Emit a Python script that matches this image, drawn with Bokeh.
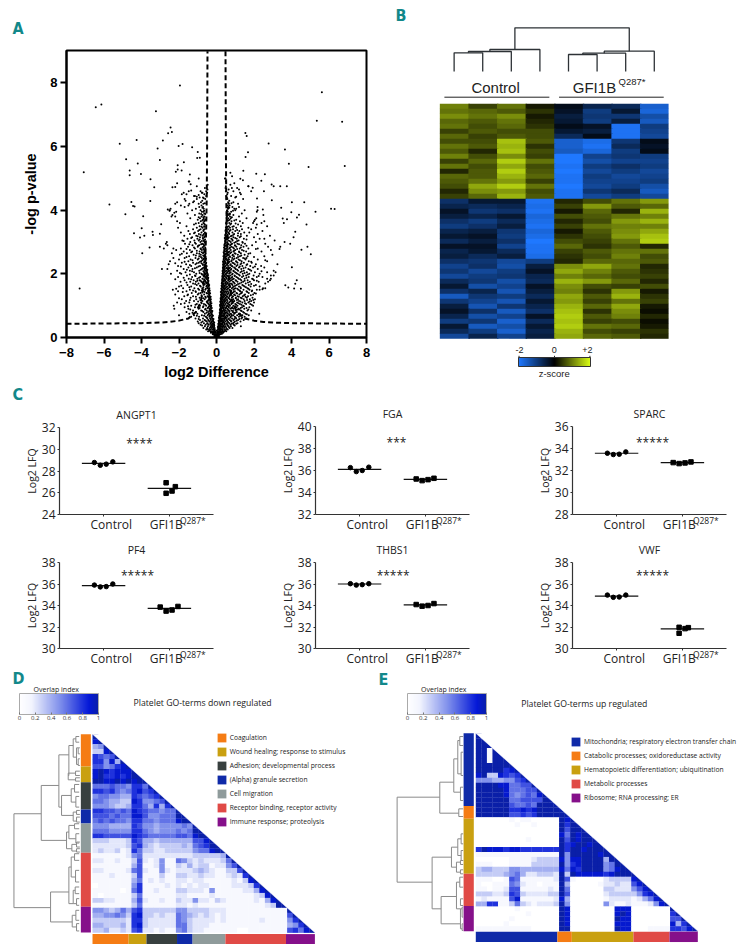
from bokeh.plotting import figure
from bokeh.layouts import column, row
from bokeh.models import (Range1d, Label, FixedTicker, LinearColorMapper, ColorBar,
                          ColumnDataSource, Title, LinearAxis)
from bokeh.embed import file_html
from bokeh.resources import INLINE

TEAL = "#12888a"
SANS = "Liberation Sans"
OPEN = "Open Sans"
NARROW = "'DejaVu Sans Condensed', 'Liberation Sans'"

# ---------- A: volcano ----------
volcano_outlier_x = [-7.3,-7.08,-6.44,-6.14,-5.71,-5.16,-4.82,-4.86,-4.63,-4.63,-4.54,-4.45,-4.37,-4.4,-4.26,-4.2,-4.03,-3.91,-3.99,-4.08,-3.85,-3.96,-3.52,-3.53,-3.32,-3.41,-3.39,-3.57,-3.23,-3.14,-3.02,-2.86,-3.02,-2.95,-3.02,-2.81,-2.91,-2.58,-2.45,-2.38,-1.95,-2.02,-1.81,-1.3,-1.0,-0.89,-1.03,-1.74,-2.07,-2.07,-2.17,-1.86,-1.42,-1.48,-1.38,-2.35,-2.2,-2.1,-1.75,-1.6,-1.35,-1.2,-0.95,-0.75,-2.6,-2.5,-2.45,-2.35,-2.25,-2.1,-1.9,-1.7,-1.45,-1.2,-1.05,-0.85,
                     5.62,5.35,6.7,6.84,4.91,3.86,3.65,2.78,1.54,1.61,1.68,1.55,1.43,0.74,0.83,2.12,2.58,2.39,1.27,1.41,2.94,3.05,3.4,3.75,2.53,1.93,2.95,2.16,4.02,4.68,3.45,2.19,2.19,2.47,6.11,6.3,5.28,3.99,4.4,4.29,3.53,3.76,3.59,4.8,4.2,4.11,3.93,3.63,3.4,3.36,4.85,4.53,5.03,4.02,4.28,4.2,3.67,3.83,4.14,4.5,3.25,3.15,3.05,2.9,2.75,2.6,2.45,2.3,1.1,1.25,0.95,1.7,1.85,1.05]
volcano_outlier_y = [1.54,5.19,7.24,7.32,4.18,6.09,5.6,3.87,5.25,5.1,4.26,4.13,4.12,3.28,6.21,5.47,5.14,3.81,3.43,3.14,3.2,2.65,4.97,4.29,4.72,3.32,3.22,2.83,7.11,5.94,5.58,6.19,3.26,3.56,2.85,2.8,2.15,6.42,6.6,6.46,7.92,6.02,6.08,5.98,5.83,5.65,5.64,5.51,5.41,5.28,5.21,5.25,5.12,4.9,4.82,4.72,4.73,4.85,4.55,4.5,4.62,4.45,4.48,4.55,4.02,3.98,4.05,3.85,3.92,4.25,4.15,4.35,4.2,4.28,4.42,4.6,
                     7.71,6.81,6.78,5.39,5.36,5.46,5.91,6.1,6.43,6.33,5.82,5.67,5.24,5.18,5.07,5.15,5.13,4.93,4.99,4.94,4.81,4.75,4.75,4.75,4.6,4.71,4.31,4.37,4.25,4.25,4.08,4.1,4.0,4.02,4.05,4.04,3.95,3.94,3.86,3.77,3.74,3.72,3.6,3.55,3.32,3.15,2.95,3.0,2.85,2.78,2.85,2.76,2.62,2.21,1.8,1.69,1.64,1.57,1.54,1.53,2.3,2.05,1.95,1.85,1.75,1.55,1.52,1.5,4.7,4.55,4.85,4.75,4.6,4.42]

cloud_rows = [
 (0.05,[-.12,-.08,-.05,-.02,.01,.04,.07,.1,.14]),
 (0.10,[-.2,-.15,-.1,-.06,-.02,.03,.06,.1,.16,.22]),
 (0.15,[-.3,-.22,-.16,-.1,-.05,.04,.09,.13,.2,.27,.35]),
 (0.20,[-.45,-.33,-.25,-.18,-.12,-.07,.06,.11,.17,.24,.3,.41,.52]),
 (0.25,[-.55,-.4,-.3,-.2,-.14,-.09,.08,.13,.19,.26,.34,.45,.6]),
 (0.30,[-.7,-.5,-.36,-.26,-.17,-.1,.09,.15,.22,.3,.4,.52,.7,.85]),
 (0.35,[-.62,-.46,-.31,-.22,-.13,.1,.14,.2,.28,.36,.49,.63,.77,1.3]),
 (0.40,[-.85,-.58,-.41,-.29,-.19,-.13,.11,.18,.25,.33,.44,.58,.74,.92]),
 (0.45,[-.95,-.67,-.47,-.33,-.23,-.15,.12,.17,.23,.31,.42,.55,.69,.88,1.12]),
 (0.50,[-1.0,-.74,-.52,-.36,-.25,-.17,.13,.2,.28,.37,.47,.6,.79,.98,1.28]),
 (0.55,[-.88,-.63,-.44,-.3,-.19,.15,.19,.26,.34,.43,.54,.71,.9,1.15,1.45]),
 (0.60,[-1.12,-.72,-.49,-.34,-.21,.14,.22,.3,.39,.5,.66,.83,1.05,1.33,1.6]),
 (0.65,[-1.35,-.93,-.57,-.38,-.24,.16,.21,.28,.36,.46,.58,.76,.97,1.2,1.5]),
 (0.70,[-2.0,-1.2,-.78,-.47,-.31,-.22,.17,.24,.32,.42,.53,.7,.89,1.1,1.38,1.72]),
 (0.75,[-1.45,-1.02,-.62,-.4,-.27,.18,.26,.35,.45,.6,.75,.95,1.25,1.55,2.28]),
 (0.80,[-1.6,-1.1,-.7,-.45,-.3,-.24,.2,.25,.33,.41,.56,.68,.86,1.08,1.42]),
 (0.85,[-1.25,-.82,-.52,-.35,-.27,.19,.28,.38,.5,.63,.81,1.02,1.3,1.65,1.85]),
 (0.90,[-2.25,-1.5,-.95,-.58,-.38,-.29,.21,.27,.36,.47,.58,.73,.92,1.18,1.48]),
 (0.95,[-1.7,-1.15,-.72,-.43,-.31,.22,.3,.4,.52,.66,.85,1.07,1.36,1.75]),
 (1.00,[-2.28,-1.35,-.88,-.55,-.36,-.28,.2,.26,.34,.44,.57,.72,.9,1.12,1.42,1.95]),
 (1.05,[-1.9,-1.05,-.67,-.42,-.32,.23,.29,.39,.49,.62,.79,1.0,1.25,1.58,1.8]),
 (1.10,[-2.1,-1.45,-.82,-.5,-.34,.22,.31,.41,.53,.68,.87,1.1,1.38,1.7,2.0]),
 (1.15,[-1.62,-1.2,-.75,-.46,-.33,.24,.28,.36,.46,.59,.76,.95,1.2,1.5,1.85]),
 (1.20,[-1.85,-1.08,-.63,-.39,-.3,.23,.33,.43,.56,.71,.9,1.15,1.45,1.78,2.05]),
 (1.25,[-1.38,-.9,-.57,-.41,-.34,.25,.3,.38,.5,.64,.82,1.03,1.3,1.62,1.92]),
 (1.30,[-1.72,-1.25,-.78,-.48,-.36,.26,.32,.42,.54,.69,.88,1.12,1.4,1.68]),
 (1.35,[-2.2,-1.52,-1.0,-.66,-.4,.24,.35,.45,.58,.74,.94,1.22,1.52,1.95]),
 (1.40,[-1.32,-.85,-.53,-.43,-.37,.27,.31,.4,.51,.65,.84,1.06,1.34,1.72,2.02]),
 (1.45,[-2.05,-1.6,-1.12,-.72,-.45,.26,.36,.47,.61,.78,.98,1.26,1.6,1.88]),
 (1.50,[-2.33,-1.42,-.93,-.6,-.41,.28,.33,.43,.55,.7,.9,1.16,1.44,1.76,2.15]),
 (1.55,[-1.78,-1.18,-.76,-.49,-.38,.27,.37,.48,.63,.82,1.02,1.3,1.65,2.48]),
 (1.60,[-2.0,-1.35,-.84,-.54,-.42,.29,.34,.44,.57,.73,.93,1.2,1.5,1.82,2.3]),
 (1.65,[-1.55,-1.05,-.68,-.46,-.39,.3,.38,.5,.66,.85,1.08,1.38,1.72,2.1]),
 (1.70,[-1.25,-.96,-.72,-.52,-.43,.28,.35,.46,.6,.77,.97,1.24,1.56,2.6]),
 (1.75,[-1.92,-1.4,-1.1,-.8,-.58,-.44,.31,.39,.52,.68,.88,1.12,1.42,1.78,2.25]),
 (1.80,[-1.7,-1.22,-.9,-.64,-.47,.3,.36,.47,.62,.8,1.02,1.32,1.66,2.0,2.85]),
 (1.85,[-1.48,-1.02,-.75,-.55,-.45,.32,.41,.55,.72,.92,1.18,1.5,1.9,2.7]),
 (1.90,[-2.05,-1.3,-.87,-.6,-.49,.31,.38,.5,.65,.84,1.06,1.36,1.72,2.15,2.45]),
 (1.95,[-1.58,-1.15,-.7,-.52,-.46,.33,.42,.56,.74,.96,1.24,1.58,1.98,2.9]),
 (2.00,[-2.43,-1.88,-1.08,-.8,-.57,-.48,.32,.39,.51,.67,.86,1.1,1.4,1.75,2.3]),
 (2.05,[-1.65,-1.2,-.65,-.5,.34,.43,.58,.76,.99,1.28,1.62,2.05,2.7]),
 (2.10,[-2.1,-1.42,-.92,-.6,-.52,.33,.4,.53,.7,.9,1.15,1.46,1.85,3.05]),
 (2.15,[-2.62,-1.75,-1.28,-.78,-.55,.35,.44,.6,.79,1.02,1.32,1.7,2.2]),
 (2.20,[-1.5,-1.05,-.68,-.56,.34,.41,.55,.72,.94,1.2,1.55,1.95,2.55]),
 (2.25,[-2.05,-1.35,-.88,-.62,-.53,.36,.46,.62,.82,1.06,1.38,1.8,2.38]),
 (2.30,[-2.55,-1.62,-1.12,-.74,-.58,.35,.43,.58,.76,.98,1.28,1.64,2.1]),
 (2.35,[-1.85,-1.25,-.95,-.66,-.55,.37,.48,.65,.86,1.12,1.46,1.88]),
 (2.40,[-2.48,-1.5,-.82,-.6,.36,.45,.6,.79,1.04,1.34,1.72,2.7]),
 (2.45,[-2.0,-1.38,-1.0,-.7,-.58,.38,.5,.67,.9,1.18,1.55,2.2]),
 (2.50,[-2.3,-1.7,-1.12,-.78,-.62,.39,.47,.63,.84,1.08,1.42,1.6]),
 (2.55,[-1.46,-.92,-.66,-.59,.37,.52,.7,.93,1.25,1.66,2.55]),
 (2.60,[-1.95,-1.22,-.84,-.61,.41,.49,.66,.87,1.14,1.5,2.98]),
 (2.65,[-2.38,-1.58,-1.05,-.72,.4,.54,.73,.97,1.3,1.8]),
 (2.70,[-1.75,-1.3,-.9,-.63,.42,.5,.68,.9,1.2,1.58,2.4]),
 (2.75,[-2.15,-1.42,-.78,-.66,.41,.56,.76,1.0,1.36,2.9]),
 (2.80,[-2.3,-1.9,-1.15,-.85,-.6,.43,.52,.7,.93,1.24,1.7,2.2]),
 (2.85,[-1.52,-1.0,-.7,.44,.58,.8,1.06,1.44,2.75]),
 (2.90,[-2.62,-1.28,-.92,-.64,.42,.54,.73,.98,1.32,1.9]),
 (2.95,[-2.7,-1.68,-1.1,-.76,.45,.6,.83,1.12,1.52,2.6]),
 (3.00,[-2.65,-1.4,-.86,-.62,.46,.56,.76,1.03,1.38,2.1]),
 (3.05,[-1.82,-1.18,-.95,-.68,.47,.63,.86,1.18,3.1]),
 (3.10,[-1.55,-1.02,-.72,.45,.58,.79,1.08,1.46,2.3,2.55]),
 (3.15,[-1.3,-.88,-.65,.48,.66,.9,1.24,2.0]),
 (3.20,[-1.72,-1.08,-.75,.47,.6,.82,1.14,1.62,2.85]),
 (3.25,[-1.42,-.94,-.67,.49,.68,.94,1.3,2.2]),
 (3.30,[-1.9,-1.15,-.8,-.62,.5,.62,.85,1.48,1.75]),
 (3.35,[-1.5,-.98,-.7,.48,.7,1.0,1.22,2.45]),
 (3.40,[-1.25,-.85,-.64,.51,.64,.88,1.36,1.85]),
 (3.45,[-2.05,-1.05,-.74,.5,.72,1.05,1.7,2.1]),
 (3.50,[-1.6,-.9,-.66,.52,.66,.92,1.3,2.7]),
 (3.55,[-1.2,-.78,-.62,.53,.74,1.15,2.15]),
 (3.60,[-1.95,-.95,-.7,.51,.68,1.4,1.95,2.4]),
 (3.65,[-2.1,-.84,-.66,.54,.8,1.25,2.0,2.55]),
 (3.70,[-1.0,-.72,-.6,.55,.7,1.05,2.05]),
 (3.75,[-1.4,-.88,-.68,.53,.62,.76,1.6,2.12]),
 (3.80,[-2.4,-2.2,-.8,-.64,.56,.72,1.2]),
 (3.85,[-1.15,-.74,.58,.66,.9,2.5]),
 (3.90,[-1.55,-.92,-.65,.55,.7,1.35]),
 (3.95,[-2.15,-.78,-.7,.6,.78,2.15]),
 (4.00,[-2.5,-1.3,-.85,.57,1.0,1.5]),
 (4.05,[-1.1,-.68,.62,.95,1.05]),
 (4.10,[-1.7,-.92,-.72,.64,.85,1.2]),
 (4.15,[-1.5,-.8,.6,.7]),
 (4.20,[-2.2,-.95,-.7,.66,1.15]),
 (4.25,[-1.25,-.83,.62,.9]),
 (4.30,[-1.65,-.76,.68]),
 (4.35,[-1.05,-.6,.58,1.42]),
 (4.40,[-.9,-.72,.55,1.0]),
 (4.45,[-1.15,-.55,.52,.78]),
 (4.50,[-1.85,-.65,.57,1.3]),
 (4.55,[-.78,-.5,.6]),
 (4.60,[-1.48,-.55,.5,.9]),
 (4.65,[-.48,.65,1.2]),
 (4.70,[-.62,.48,.82]),
 (4.75,[-1.05,.5,1.7]),
 (4.80,[-.47,.74]),
 (4.90,[-1.45,.5]),
 (5.00,[-.95,.45,.48]),
]
cloud_rows_b = [
 (0.12,[-.17,.05,.12,.29]),(0.17,[-.24,-.03,.08,.15,.38]),(0.22,[-.38,-.11,.02,.19,.33,.47]),(0.27,[-.48,-.15,.1,.18,.23,.55]),
 (0.33,[-.31,-.2,.07,.17,.31,.44,.66]),(0.38,[-.77,-.24,-.12,.12,.21,.37,.6,.97]),(0.43,[-.5,-.17,.1,.19,.27,.52,.81,1.05]),(0.47,[-.81,-.28,-.12,.14,.34,.4,.63,.93]),
 (0.53,[-.58,-.41,-.2,.11,.24,.33,.57,.76,1.08]),(0.58,[-.95,-.3,-.16,.18,.27,.41,.62,.95,1.22]),(0.63,[-.52,-.27,.13,.2,.45,.51,.74,1.02,1.37]),(0.68,[-1.05,-.66,-.35,-.19,.16,.3,.38,.6,.82,1.27]),
 (0.73,[-.42,-.25,.19,.23,.41,.67,.8,1.19,1.62]),(0.78,[-1.28,-.53,-.33,.17,.28,.48,.53,.93,1.0,1.47]),(0.83,[-.76,-.39,-.22,.22,.31,.44,.7,.88,1.34]),(0.88,[-1.4,-.61,-.34,.18,.24,.4,.61,1.14,1.22,1.7]),
 (0.93,[-.9,-.47,-.25,.24,.35,.5,.79,.84,1.29,1.6]),(0.98,[-1.52,-.7,-.4,-.3,.21,.33,.55,.63,.99,1.46]),(1.03,[-1.12,-.6,-.35,.19,.27,.37,.68,1.05,1.33,1.88]),(1.08,[-1.7,-.79,-.45,-.27,.25,.35,.6,.83,1.17,1.52]),
 (1.13,[-.98,-.52,-.31,.2,.3,.44,.73,.92,1.28,1.76]),(1.18,[-1.42,-.86,-.43,-.35,.26,.4,.51,.78,1.09,1.63,1.96]),(1.23,[-2.0,-.71,-.37,.22,.29,.47,.66,1.03,1.35]),(1.28,[-1.1,-.6,-.44,-.31,.27,.34,.57,.85,1.19,1.55]),
 (1.33,[-1.55,-.8,-.39,.25,.38,.49,.7,.99,1.47,1.83]),(1.38,[-.95,-.5,-.34,.29,.33,.62,.81,1.1,1.29,2.1]),(1.43,[-1.8,-1.1,-.64,-.38,.23,.41,.54,.91,1.36,1.64]),(1.48,[-1.25,-.79,-.44,-.36,.3,.36,.72,.77,1.23,1.9]),
 (1.53,[-2.15,-.98,-.57,-.4,.26,.45,.6,.95,1.11,1.7]),(1.58,[-1.45,-.7,-.47,.31,.39,.52,.87,1.28,1.57]),(1.63,[-1.88,-.88,-.52,-.41,.27,.43,.69,1.0,1.44,2.0]),(1.68,[-1.14,-.62,-.45,.33,.37,.55,.82,1.15,1.85]),
 (1.73,[-1.6,-.75,-.55,-.47,.29,.48,.59,.93,1.33,1.68]),(1.78,[-1.02,-.85,-.61,-.43,.34,.4,.74,1.05,1.5,2.15]),(1.83,[-2.2,-1.35,-.66,-.5,.31,.45,.64,.86,1.26,1.95]),(1.88,[-1.75,-.93,-.56,-.44,.36,.53,.79,1.13,1.6]),
 (1.93,[-1.12,-.68,-.54,.32,.44,.6,.98,1.43,2.25]),(1.98,[-1.42,-.77,-.59,-.47,.37,.49,.83,1.19,1.67]),(2.03,[-1.95,-.9,-.62,-.51,.35,.56,.71,1.05,1.5]),(2.08,[-1.3,-.7,-.54,.33,.47,.64,.92,1.35,2.4]),
 (2.13,[-1.58,-.84,-.64,-.49,.38,.42,.77,1.1,1.78]),(2.18,[-1.15,-.74,-.57,.36,.52,.68,1.0,1.44]),(2.23,[-1.9,-.96,-.6,-.54,.39,.46,.85,1.24,2.05]),(2.28,[-1.42,-.72,-.63,.37,.55,.73,1.12,1.6]),
 (2.33,[-2.2,-1.05,-.8,-.56,.4,.5,.92,1.33]),(2.38,[-1.7,-.88,-.65,.35,.44,.69,1.07,1.85]),(2.43,[-1.28,-.76,-.59,.42,.57,.81,1.25,2.6]),(2.48,[-.95,-.68,-.56,.39,.52,.96,1.5]),
 (2.53,[-1.6,-.83,-.6,.44,.48,.72,1.15,2.0]),(2.58,[-1.1,-.71,-.63,.41,.6,.85,1.32]),(2.63,[-1.85,-.92,-.58,.45,.53,1.02,1.7]),(2.68,[-1.35,-.78,-.67,.38,.64,.78,1.22]),
 (2.73,[-1.05,-.62,.43,.55,.94,1.45]),(2.78,[-1.6,-.84,-.69,.46,.61,1.1,2.1]),(2.83,[-1.2,-.75,-.6,.4,.72,.88,1.3]),(2.88,[-.98,-.66,.47,.55,1.0,1.6]),
 (2.93,[-1.45,-.82,-.71,.43,.65,.78,1.2]),(2.98,[-1.15,-.63,.48,.58,.95,1.4]),(3.03,[-1.75,-.78,-.67,.46,.7,1.1]),(3.08,[-.9,-.61,.5,.54,.84,1.6]),
 (3.13,[-1.35,-.73,.44,.64,1.0]),(3.18,[-1.0,-.64,.52,.76,1.3]),(3.23,[-.85,-.7,.47,.58,.9]),(3.28,[-1.2,-.6,.53,.67,1.15]),
 (3.38,[-.92,-.69,.49,.75,1.1]),(3.48,[-.8,-.63,.55,.6,.85]),(3.58,[-1.1,-.67,.52,.78,1.02]),(3.68,[-.76,-.62,.57,.64,.95]),
 (3.78,[-.95,-.7,.54,.82]),(3.88,[-.82,-.6,.61,.72]),(3.98,[-.66,.56,.88]),(4.08,[-.75,.59,.68]),(4.22,[-.62,.64,.8]),(4.38,[-.68,.54]),
]
thresh_left_x = [-8,-6,-4,-3,-2.5,-2,-1.5,-1.1,-0.85,-0.7,-0.6,-0.55,-0.52,-0.5,-0.49,-0.48]
thresh_left_y = [0.43,0.44,0.45,0.47,0.49,0.53,0.6,0.8,1.1,1.6,2.4,3.4,4.4,6.0,7.5,9.0]
thresh_right_x = [0.48,0.49,0.5,0.52,0.55,0.6,0.7,0.85,1.1,1.5,2,2.5,3,4,6,8]
thresh_right_y = [9.0,7.5,6.0,4.4,3.4,2.4,1.6,1.1,0.8,0.6,0.53,0.49,0.47,0.45,0.44,0.43]

# ---------- B: heatmap (z-scores; 8 samples) ----------
zscore_rows = [
 [1.0,0.5,0.9,0.2,-0.2,-0.6,-0.7,-1.6],[0.9,0.8,0.7,0.4,-0.3,-1.0,-0.4,-1.7],[1.1,0.9,1.1,0.2,-0.5,-0.9,-0.9,-1.3],[0.8,0.7,0.9,0.3,-0.4,-1.0,-0.5,-1.5],
 [0.9,0.6,0.8,0.4,-0.2,-0.3,-1.9,-1.0],[0.5,0.7,0.6,0.6,-0.4,-0.5,-1.9,-1.1],[0.8,0.5,0.7,0.6,-0.7,-0.2,-1.9,-1.2],
 [0.6,0.6,1.5,0.7,-1.6,-1.8,-0.9,-0.2],[0.9,0.7,1.4,0.4,-1.6,-1.9,-0.7,-0.3],[0.7,0.3,1.5,0.6,-1.5,-1.7,-1.0,-0.2],
 [1.0,0.6,1.1,0.5,-2.0,-1.1,-0.9,-1.0],[0.5,0.8,1.6,0.9,-2.0,-1.3,-1.1,-1.1],[0.9,0.6,1.3,0.6,-1.9,-1.0,-0.8,-1.0],[0.3,0.7,1.6,0.7,-2.0,-1.2,-1.0,-1.2],
 [0.8,0.7,1.4,0.8,-1.9,-1.0,-1.2,-1.1],[0.7,0.9,1.2,0.5,-1.9,-1.1,-1.1,-1.0],[0.6,1.3,1.6,0.9,-2.0,-1.2,-1.0,-1.3],[0.3,1.1,1.2,0.6,-1.9,-0.9,-0.7,-1.5],[0.5,0.8,1.4,0.7,-1.9,-1.2,-1.0,-1.2],
 [-0.8,-0.4,-0.4,-1.9,0.3,0.6,0.9,1.2],[-0.6,-0.7,-0.6,-1.8,0.5,1.2,0.7,0.8],[-0.3,-0.9,-0.8,-1.9,0.2,0.8,0.3,1.4],[-0.5,-0.6,-0.4,-1.7,0.6,0.7,0.9,1.0],[-0.8,-1.0,-0.7,-1.8,0.3,0.6,1.2,1.4],
 [-1.0,-0.8,-0.5,-1.9,0.5,0.9,1.0,1.0],[-0.6,-0.5,-0.9,-1.7,0.2,0.7,1.1,1.3],[-0.4,-0.3,-1.0,-1.8,0.4,0.6,1.2,1.5],[-0.7,-0.5,-0.8,-2.0,0.6,0.5,0.9,1.6],[-0.3,-0.3,-1.1,-1.9,0.8,0.4,0.7,0.3],
 [-0.6,-0.4,-0.7,-1.9,0.5,0.7,0.9,0.9],[-0.5,-0.7,-0.5,-1.8,0.4,0.6,1.0,0.6],[-0.8,-0.9,-1.2,-1.0,0.3,0.8,0.8,0.7],
 [-1.1,-0.8,-1.3,-0.5,1.1,1.3,0.9,0.3],[-0.9,-1.2,-1.0,-0.3,1.3,1.0,0.7,0.4],[-1.2,-1.0,-0.9,-0.6,1.0,0.8,0.6,0.5],[-0.7,-0.9,-1.3,-0.7,1.4,1.2,0.8,0.3],[-0.4,-1.3,-1.1,-0.3,1.1,0.6,0.5,0.6],
 [-0.8,-0.6,-1.4,-0.5,1.0,0.4,1.2,0.2],[-1.5,-0.9,-1.0,-0.7,1.3,0.7,1.4,0.4],[-0.9,-1.1,-1.4,-0.4,1.2,0.5,0.9,0.5],[-0.5,-1.4,-0.9,-0.6,1.4,0.8,1.3,0.2],[-0.3,-0.8,-1.5,-0.8,1.5,0.4,1.1,0.1],
 [-0.6,-1.3,-1.1,-0.3,1.6,0.7,1.0,0.3],[-1.0,-0.9,-1.6,-0.7,1.5,0.5,0.6,0.1],[-0.4,-1.5,-1.3,-0.4,1.6,0.9,0.8,0.2],[-0.7,-1.0,-1.6,-0.6,1.4,0.6,0.5,0.4],[-1.2,-0.6,-1.1,-0.5,1.3,0.8,0.7,0.3],
]
# (x-left, height-left, x-right, height-right, merge height)
sample_merges = [(0.5,0,1.5,0,56),(1.0,56,2.5,0,60),(1.75,60,3.5,0,66),
                 (4.5,0,5.5,0,51),(5.0,51,6.5,0,55),(5.75,55,7.5,0,61),
                 (2.625,66,6.625,61,131)]
zbar_ticks = [-2,0,2]

# ---------- C: proteins ----------
proteins = [
 dict(name="ANGPT1", yr=(24,32), ticks=[24,26,28,30,32], ctrl=[28.78,28.53,28.63,28.84], ctrl_mean=28.7,
      mut=[26.92,25.95,26.16,26.56], mut_mean=26.4, mut_x=[1.95,1.95,2.04,2.09], stars="****", sx=1.545, sy=30.54),
 dict(name="FGA", yr=(32,40), ticks=[32,34,36,38,40], ctrl=[36.26,35.9,36.0,36.3], ctrl_mean=36.1,
      mut=[35.23,35.08,35.17,35.29], mut_mean=35.2, mut_x=[1.86,1.95,2.04,2.13], stars="***", sx=1.56, sy=38.54),
 dict(name="SPARC", yr=(28,36), ticks=[28,30,32,34,36], ctrl=[33.57,33.45,33.48,33.69], ctrl_mean=33.57,
      mut=[32.72,32.63,32.69,32.78], mut_mean=32.72, mut_x=[1.86,1.95,2.04,2.13], stars="*****", sx=1.545, sy=34.54),
 dict(name="PF4", yr=(30,38), ticks=[30,32,34,36,38], ctrl=[35.9,35.73,35.76,36.0], ctrl_mean=35.85,
      mut=[33.85,33.48,33.58,33.91], mut_mean=33.73, mut_x=[1.86,1.95,2.04,2.13], stars="*****", sx=1.515, sy=36.8),
 dict(name="THBS1", yr=(30,38), ticks=[30,32,34,36,38], ctrl=[36.03,35.9,35.94,36.03], ctrl_mean=36.0,
      mut=[34.09,33.94,34.0,34.18], mut_mean=34.06, mut_x=[1.86,1.95,2.04,2.13], stars="*****", sx=1.51, sy=36.8),
 dict(name="VWF", yr=(30,38), ticks=[30,32,34,36,38], ctrl=[34.97,34.76,34.79,34.97], ctrl_mean=34.88,
      mut=[31.97,31.42,31.85,31.94], mut_mean=31.82, mut_x=[1.95,1.95,2.04,2.09], stars="*****", sx=1.545, sy=36.8),
]
ctrl_x = [0.86,0.95,1.04,1.14]
group_labels = ["Control", "GFI1B"]
mutation_label = "Q287*"

# ---------- D / E ----------
cats_d = ["Coagulation","Wound healing; response to stimulus","Adhesion; developmental process","(Alpha) granule secretion","Cell migration","Receptor binding, receptor activity","Immune response; proteolysis"]
cat_cols_d = ["#f57c14","#c9a010","#38403f","#0f2aa8","#8f9b9b","#e04a46","#85108a"]
cat_sizes_d = [6.5,3.2,5.5,2.8,5.9,10.9,5.2]
cats_e = ["Mitochondria; respiratory electron transfer chain","Catabolic processes; oxidoreductase activity","Hematopoietic differentiation; ubiquitination","Metabolic processes","Ribosome; RNA processing; ER"]
cat_cols_e = ["#0f2aa8","#f57c14","#c9a010","#e04a46","#85108a"]
cat_sizes_e = [14.7,2.6,11.1,6.5,5.1]

overlap_d = [
 [10],[9,10],[4,5,10],[3,3,9,10],[8,7,6,7,10],[8,8,5,9,4,10],[7,7,5,6,8,9,10],
 [9,10,9,8,9,9,9,10],[9,10,8,8,9,8,9,10,10],[10,10,9,9,10,9,10,9,10,10],
 [6,6,6,7,6,6,5,8,8,6,10],[8,8,7,8,6,5,6,8,9,7,8,10],[5,6,6,5,5,4,4,8,7,6,7,8,10],
 [6,6,5,4,4,3,3,9,8,5,5,6,7,10],[5,5,5,4,3,3,4,8,8,6,4,8,4,8,10],
 [8,8,7,7,6,7,6,9,8,7,6,6,5,6,6,10],[7,7,7,6,7,6,6,9,9,7,5,5,6,6,6,10,10],[6,7,6,7,6,6,5,8,8,6,6,5,6,6,6,9,10,10],
 [5,5,5,4,4,4,4,8,7,5,5,4,5,5,5,5,6,5,10],[6,6,6,5,5,5,5,8,8,6,5,4,5,5,5,6,5,6,10,10],[8,8,7,7,7,7,7,9,8,7,6,6,6,6,6,7,7,6,9,10,10],
 [3,3,3,2,2,2,3,8,7,4,4,3,4,4,4,4,4,4,7,7,9,10],[2,2,2,2,2,2,3,7,8,4,3,2,3,3,3,3,4,3,6,7,8,10,10],[2,3,2,2,3,1,2,8,6,3,3,2,2,3,3,3,3,3,5,6,6,9,10,10],
 [1,1,1,1,1,1,2,5,6,2,2,2,2,2,2,2,2,2,3,3,3,3,3,4,10],
 [2,2,1,1,2,1,1,3,7,2,1,2,5,1,1,6,5,3,2,3,2,2,2,3,6,10],
 [1,1,1,1,1,1,1,4,7,1,1,2,5,1,1,3,2,4,2,3,3,1,2,2,5,7,10],
 [2,2,1,1,1,1,2,6,7,2,1,1,5,2,1,2,2,2,3,4,3,2,1,1,3,3,7,10],
 [1,1,1,2,1,1,1,3,7,1,1,1,3,1,1,3,3,2,2,3,2,2,1,1,2,3,2,8,10],
 [1,1,1,1,1,1,1,4,6,1,2,1,2,1,1,2,2,1,2,2,1,1,1,1,1,2,1,3,9,10],
 [0,1,1,1,1,1,1,5,8,1,1,1,1,2,1,2,1,2,1,2,2,1,1,1,1,2,2,2,3,8,10],
 [1,1,1,1,1,0,1,6,8,1,1,2,1,1,1,3,3,2,2,2,1,5,1,1,1,1,1,2,2,4,9,10],
 [1,0,1,1,1,1,1,3,6,1,1,1,1,1,1,2,2,1,1,1,1,2,1,1,1,1,1,1,1,2,3,9,10],
 [3,3,2,2,1,1,1,4,7,2,1,1,2,1,1,3,2,2,5,2,2,1,3,2,1,1,1,1,1,2,1,4,9,10],
 [1,1,1,1,1,1,1,3,6,1,1,1,1,1,1,2,2,1,2,1,1,1,1,1,1,1,1,1,1,1,1,2,3,10,10],
 [5,5,4,3,4,6,4,7,8,3,3,3,3,3,3,5,5,3,3,3,3,2,2,2,1,1,1,1,1,1,1,1,1,1,1,10],
 [4,4,5,5,6,5,3,8,9,3,3,2,3,2,2,6,5,4,3,2,3,2,1,2,1,1,1,1,1,1,1,1,1,1,1,7,10],
 [3,3,3,3,3,3,2,8,8,3,2,2,2,2,2,6,5,3,2,2,2,2,1,2,1,1,1,1,1,1,2,1,1,1,1,5,8,10],
 [4,4,3,3,3,4,2,8,9,3,2,2,2,2,2,6,6,3,2,2,2,1,1,1,1,1,1,1,1,1,1,1,1,1,1,4,5,8,10],
 [3,3,4,2,2,3,2,7,8,2,2,1,2,1,1,5,6,3,2,2,1,1,1,1,1,1,0,0,1,1,1,1,1,1,1,7,8,6,9,10],
]
overlap_e = [
 [10],[10,10],[10,10,10],[10,10,1,10],[10,10,1,10,10],[10,10,1,10,10,10],[10,10,10,10,10,10,10],
 [10,10,10,10,10,8,9,10],[9,10,3,3,9,8,7,8,10],[5,5,5,4,4,5,5,7,8,10],
 [10,10,10,10,9,9,6,6,7,7,10],[10,10,10,10,10,9,6,6,6,7,7,10],[10,10,10,10,10,9,6,5,6,7,6,9,10],
 [10,10,10,10,10,10,6,6,7,7,7,7,10,10],[10,10,10,10,10,10,7,6,6,7,6,10,10,10,10],
 [10,10,10,10,10,10,8,8,9,8,9,10,10,10,10,10],[10,10,10,10,10,10,7,7,8,7,8,10,10,10,10,10,10],
 [0,0,0,0,0,0,1,0,1,1,0,0,0,0,0,10,9,10],
 [0,0,0,0,0,0,0,1,0,0,1,0,0,0,0,10,8,10,10],
 [0,0,0,0,0,0,0,0,0,0,0,0,0,0,0,10,7,10,10,10],
 [0,0,0,0,0,0,0,0,0,0,0,0,0,0,0,9,6,10,9,10,10],
 [0,0,0,0,0,0,0,0,0,1,0,0,0,0,0,10,7,10,9,10,10,10],
 [0,0,0,0,0,0,0,0,0,0,0,0,0,0,0,10,8,9,10,10,9,10,10],
 [8,10,9,9,9,8,9,9,8,8,8,8,8,8,8,10,8,10,10,9,10,10,10,10],
 [1,1,1,1,1,1,1,1,1,1,1,1,1,1,1,10,5,10,10,10,10,10,9,10,10],
 [0,0,0,0,0,0,1,1,1,1,2,3,3,3,3,9,5,9,9,10,10,10,10,4,10,10],
 [1,1,1,0,0,0,1,1,1,1,3,3,3,3,3,10,5,8,9,10,10,10,10,5,6,10,10],
 [3,4,4,3,3,3,5,5,4,4,4,4,4,4,4,9,6,9,8,10,10,10,10,5,6,9,10,10],
 [3,3,3,3,3,4,5,6,4,2,2,3,3,3,2,10,3,10,9,9,9,9,9,8,9,10,10,10,10],
 [1,1,1,0,0,1,7,6,1,1,1,1,1,1,2,10,7,1,0,0,0,0,0,2,3,3,3,3,9,10],
 [1,0,0,1,1,1,6,5,2,1,1,0,1,1,1,10,4,0,0,0,0,0,1,2,2,3,2,2,7,9,10],
 [1,1,0,1,1,2,7,7,1,1,1,1,1,2,1,10,6,0,0,0,0,0,0,3,3,2,2,2,5,7,9,10],
 [3,3,3,2,2,3,8,7,3,2,2,2,2,3,3,10,7,0,0,0,0,0,0,2,3,3,3,3,3,5,8,9,10],
 [1,2,1,1,1,1,7,9,1,1,1,1,1,1,2,9,4,0,0,0,0,0,0,1,2,2,2,2,1,2,4,6,9,10],
 [4,4,8,8,1,1,3,6,3,2,1,2,2,2,3,10,5,0,0,0,0,0,0,5,2,1,1,2,1,1,1,2,5,9,10],
 [0,0,0,0,0,0,0,1,0,0,0,0,0,0,0,10,9,0,0,0,0,0,0,0,0,9,9,9,0,0,0,0,0,0,0,10],
 [0,0,0,0,0,0,0,0,0,1,0,0,0,0,0,10,9,0,0,0,0,0,0,0,0,9,10,9,0,0,0,0,0,0,0,8,10],
 [0,0,0,0,0,0,1,0,0,0,0,0,0,0,0,10,9,0,0,0,0,0,0,0,0,10,9,9,0,0,0,0,0,0,0,7,7,10],
 [0,0,0,0,0,1,0,0,0,0,0,0,0,0,0,10,9,0,0,0,0,0,0,0,0,9,9,9,0,0,0,0,0,0,0,9,4,8,10],
 [1,1,1,1,1,1,1,1,1,1,0,0,0,0,0,10,10,0,0,0,0,0,0,0,0,10,9,9,0,0,0,1,1,1,1,8,8,7,9,10],
]
# dendrogram brackets, as read: (parent height, first branch row, second branch row, first child height, second child height)
tree_d = [(40,460,742,122,150),(122,375,540,175,198),(175,283,440,205,183),(205,255,345,218,203),(218,235,290,226,228),
 (226,228,245,236,236),(228,262,312,233,233),(233,262,280,238,238),(233,295,315,238,238),(203,338,358,225,225),(225,332,345,238,238),(225,352,362,238,238),
 (183,405,465,212,218),(212,385,425,222,226),(222,372,395,236,236),(226,408,440,236,236),(218,455,482,228,228),(228,450,462,238,238),(228,470,485,238,238),
 (198,515,565,205,214),(205,495,535,222,226),(222,490,505,236,236),(226,520,548,236,236),(214,552,572,228,228),(228,545,560,238,238),(228,565,575,238,238),
 (150,695,785,205,215),(205,620,730,212,218),(212,590,650,222,225),(222,580,600,236,236),(225,630,665,236,236),(218,690,730,224,228),(224,680,700,236,236),(228,715,735,236,236),
 (215,765,800,226,228),(226,750,780,236,236),(228,790,812,236,236)]
tree_e = [(80,410,665,208,185),(208,365,458,250,265),(250,295,395,262,270),(262,240,340,268,272),(268,228,255,278,278),(272,275,345,278,278),(270,380,420,278,278),(265,445,468,278,278),
 (185,590,745,243,212),(243,560,620,262,258),(262,535,585,272,272),(272,520,550,278,278),(272,570,600,278,278),(258,605,635,270,270),(270,600,612,278,278),(270,628,640,278,278),
 (212,708,790,258,270),(258,665,745,268,270),(268,650,680,278,278),(270,715,735,278,278),(270,745,805,275,275),(275,740,770,278,278),(275,790,810,278,278)]

# ---------- helpers ----------
OVER = 0.05   # cells overlap a hair so that no seam shows between them

def lerp_palette(anchors, n=256):
    out = []
    for i in range(n):
        t = i / (n - 1)
        for (t0, c0), (t1, c1) in zip(anchors, anchors[1:]):
            if t <= t1:
                f = (t - t0) / (t1 - t0)
                rgb = [round(int(c0[k:k+2], 16) * (1 - f) + int(c1[k:k+2], 16) * f) for k in (1, 3, 5)]
                out.append("#%02x%02x%02x" % tuple(rgb))
                break
    return out

def letter(p, s, x, y):
    p.add_layout(Label(x=x, y=y, text=s, text_font=NARROW, text_font_style="bold", text_font_size="16px",
                       text_color=TEAL, text_baseline="bottom"))

def letter_title(p, s, offset, standoff):
    p.add_layout(Title(text=s, align="left", offset=offset, standoff=standoff, text_font=NARROW, text_font_style="bold",
                       text_font_size="16px", text_color=TEAL), "above")

def blank(w, h, xr, yr):
    p = figure(width=w, height=h, x_range=Range1d(*xr), y_range=Range1d(*yr), output_backend="svg",
               toolbar_location=None, x_axis_type=None, y_axis_type=None, min_border=0, frame_align=False)
    p.outline_line_color = None
    p.grid.visible = False
    return p

# ---------- A ----------
pa = figure(width=385, height=385, x_range=Range1d(-8, 8), y_range=Range1d(0, 9.02), output_backend="svg",
            toolbar_location=None, min_border_left=66, min_border_right=19, min_border_top=50, min_border_bottom=48, frame_align=False)
pa.grid.visible = False
pa.outline_line_color = "black"; pa.outline_line_width = 2
cx, cy = [], []
for yy, xs in cloud_rows + cloud_rows_b:
    cx += xs; cy += [yy] * len(xs)
pa.scatter(cx + volcano_outlier_x, cy + volcano_outlier_y, size=2, color="black", line_color=None)
pa.line(thresh_left_x, thresh_left_y, line_color="black", line_width=2, line_dash="5 3")
pa.line(thresh_right_x, thresh_right_y, line_color="black", line_width=2, line_dash="5 3")
pa.xaxis.ticker = FixedTicker(ticks=[-8,-6,-4,-2,0,2,4,6,8])
pa.yaxis.ticker = FixedTicker(ticks=[0,2,4,6,8])
for ax in (pa.xaxis[0], pa.yaxis[0]):
    ax.major_tick_in = 0; ax.major_tick_out = 6; ax.minor_tick_out = 0; ax.minor_tick_in = 0
    ax.major_tick_line_width = 2; ax.axis_line_width = 2
    ax.major_label_text_font = SANS; ax.major_label_text_font_style = "bold"; ax.major_label_text_font_size = "13px"
    ax.major_label_text_color = "black"
    ax.axis_label_text_font = SANS; ax.axis_label_text_font_style = "bold"; ax.axis_label_text_font_size = "14.5px"
    ax.axis_label_text_color = "black"
pa.xaxis.axis_label = "log2 Difference"
pa.yaxis.axis_label = "-log p-value"
pa.xaxis.axis_label_standoff = 4
pa.yaxis.axis_label_standoff = 8
pa.yaxis.major_label_standoff = 3
pa.xaxis.major_label_standoff = 4
letter_title(pa, "A", -54, 26)

# ---------- B ----------
pb = blank(356, 385, (-1.9, 10.55), (56.34, -20.66))
zpal = lerp_palette([(0, "#1f78ff"), (0.5, "#000000"), (1, "#dcff14")])
zmap = LinearColorMapper(palette=zpal, low=-2, high=2)
bx, by, bv = [], [], []
for r, vals in enumerate(zscore_rows):
    for c, v in enumerate(vals):
        bx.append(c); by.append(r); bv.append(v)
srcb = ColumnDataSource(dict(l=bx, r=[v + 1 + (OVER if v < 7 else 0) for v in bx], t=by, b=[v + 1 + (OVER if v < 46 else 0) for v in by], v=bv))
pb.quad(left="l", right="r", top="t", bottom="b", source=srcb,
        fill_color={"field": "v", "transform": zmap}, line_color=None)
LEAF = -6.46
def hh(h): return LEAF - h / 15
mx, my = [], []
for xl, hl, xr, hr, h in sample_merges:
    mx.append([xl, xl, xr, xr]); my.append([hh(hl), hh(h), hh(h), hh(hr)])
pb.multi_line(mx, my, line_color="#2d3236", line_width=1.3)
pb.segment([0.16, 4.17], [-1.32, -1.32], [3.83, 7.83], [-1.32, -1.32], line_color="#222222", line_width=1)
for t, x, y, size, align in [("Control", 1.95, -3.26, "15px", "center"), ("GFI1B", 4.65, -3.26, "15px", "left"),
                             ("Q287*", 6.25, -4.46, "9.5px", "left"), ("-2", 2.79, 49.3, "9px", "center"),
                             ("0", 4.0, 49.3, "9px", "center"), ("+2", 5.16, 49.3, "9px", "center"),
                             ("z-score", 4.0, 53.9, "9.5px", "center")]:
    pb.add_layout(Label(x=x, y=y, text=t, text_font=SANS, text_font_size=size, text_align=align,
                        text_baseline="middle", text_color="#222222"))
cb = ColorBar(color_mapper=zmap, orientation="horizontal", width=72, height=9, location=(133, 19), padding=0, margin=0,
              ticker=FixedTicker(ticks=[]), bar_line_color="#333333", background_fill_alpha=0)
pb.add_layout(cb)
tick_x = [4.01 + 0.62 * v for v in zbar_ticks]
pb.segment(tick_x, [50.4] * 3, tick_x, [50.9] * 3, line_color="#222222", line_width=1)
letter(pb, "B", -1.55, -15.86)

# ---------- C ----------
def panel_c(d, w, h, left, right, top, bottom, tag=None):
    lo, hi = d["yr"]
    p = figure(width=w, height=h, x_range=Range1d(0.33, 2.67), y_range=Range1d(lo, hi), output_backend="svg",
               toolbar_location=None, min_border_left=left, min_border_right=right, min_border_top=top, min_border_bottom=bottom,
               frame_align=False)
    # protein name sits next to the frame; the panel letter, if any, is stacked above it
    p.add_layout(Title(text=d["name"], align="center", text_font=OPEN, text_font_size="10.5px", text_font_style="normal",
                       text_color="#222222", standoff=11), "above")
    if tag:
        letter_title(p, tag, -47, -6)
    p.grid.visible = False; p.outline_line_color = None
    p.segment([0.67, 1.67], [d["ctrl_mean"], d["mut_mean"]], [1.33, 2.33], [d["ctrl_mean"], d["mut_mean"]], line_color="#111111", line_width=1.2)
    p.scatter(ctrl_x, d["ctrl"], marker="circle", size=4.5, color="black")
    p.scatter(d["mut_x"], d["mut"], marker="square", size=4.5, color="black")
    p.yaxis.ticker = FixedTicker(ticks=d["ticks"])
    # inner axis: the line, tick marks at the two groups, and the superscript of the mutant's name
    inner = p.xaxis[0]
    inner.ticker = FixedTicker(ticks=[2.356], minor_ticks=[1, 2])
    inner.major_label_overrides = {2.356: mutation_label}
    inner.major_tick_in = 0; inner.major_tick_out = 0; inner.minor_tick_in = 0; inner.minor_tick_out = 2
    inner.major_label_text_font = OPEN; inner.major_label_text_font_size = "8.5px"
    inner.major_label_text_color = "#222222"; inner.major_label_standoff = -2
    inner.major_label_orientation = "horizontal"
    # outer axis: the two group names
    outer = LinearAxis(ticker=FixedTicker(ticks=[1.117, 1.953]), major_label_overrides={1.117: group_labels[0], 1.953: group_labels[1]},
                       axis_line_color=None, major_tick_line_color=None, minor_tick_line_color=None,
                       major_tick_in=0, major_tick_out=0, minor_tick_in=0, minor_tick_out=0,
                       major_label_text_font=OPEN, major_label_text_font_size="12px", major_label_text_color="#222222",
                       major_label_standoff=-13)
    p.add_layout(outer, "below")
    ya = p.yaxis[0]
    ya.major_tick_in = 0; ya.major_tick_out = 2; ya.minor_tick_out = 0; ya.minor_tick_in = 0
    for ax in (inner, ya):
        ax.axis_line_color = "#333333"; ax.major_tick_line_color = "#333333"; ax.minor_tick_line_color = "#333333"; ax.axis_line_width = 1.2
    p.yaxis.major_label_text_font = OPEN; p.yaxis.major_label_text_font_size = "12px"
    p.yaxis.major_label_text_color = "#222222"; p.yaxis.major_label_standoff = 2
    p.yaxis.axis_label = "Log2 LFQ"; p.yaxis.axis_label_text_font = OPEN
    p.yaxis.axis_label_text_font_size = "10.5px"; p.yaxis.axis_label_text_font_style = "normal"
    p.yaxis.axis_label_standoff = 0; p.yaxis.axis_label_text_color = "#222222"
    p.add_layout(Label(x=d["sx"], y=d["sy"], text=d["stars"], text_font=OPEN, text_font_size="12px",
                       text_align="center", text_baseline="middle", text_color="#222222"))
    return p

c_geo = [(240, 59, 27), (256, 75, 27), (245, 76, 15)]
row_c1 = row(*[panel_c(proteins[i], c_geo[i][0], 150, c_geo[i][1], c_geo[i][2], 41, 21, "C" if i == 0 else None) for i in range(3)])
row_c2 = row(*[panel_c(proteins[i + 3], c_geo[i][0], 135, c_geo[i][1], c_geo[i][2], 25, 22) for i in range(3)])

# ---------- D / E ----------
ovl_pal = lerp_palette([(0, "#ffffff"), (0.15, "#f3f5fe"), (0.5, "#8393ec"), (0.88, "#0418d8"), (1, "#0a1fa8")])
def overlap_panel(w, xr, yr, matrix, sizes, colors, names, tree, tree_x0, tree_y0, sx, sy,
                  barx, bary, cb_loc, leg_loc, title, title_xy, tag, tag_xy, cb_title_xy):
    p = blank(w, 275, xr, yr)
    mapper = LinearColorMapper(palette=ovl_pal, low=0, high=1)
    l, t, v = [], [], []
    for r, vals in enumerate(matrix):
        for c, val in enumerate(vals):
            l.append(c); t.append(r); v.append(val / 10)
    src = ColumnDataSource(dict(l=l, r=[a + 1 + OVER for a in l], t=t, b=[a + 1 + OVER for a in t], v=v))
    p.quad(left="l", right="r", top="t", bottom="b", source=src,
           fill_color={"field": "v", "transform": mapper}, line_color=None)
    N = len(matrix)
    p.patch([0, N + 1, N + 1], [0, 0, N + 1], fill_color="white", line_color="white", line_width=0.5)
    pos = 0
    for name, size, col in zip(names, sizes, colors):
        p.quad(left=barx[0], right=barx[1], top=pos, bottom=pos + size, fill_color=col, line_color=None, legend_label=name)
        p.quad(left=pos, right=pos + size, top=bary[0], bottom=bary[1], fill_color=col, line_color=None)
        pos += size
    xs, ys = [], []
    for par, a, b, ca, cb_ in tree:
        xs.append([(ca - tree_x0) / sx, (par - tree_x0) / sx, (par - tree_x0) / sx, (cb_ - tree_x0) / sx])
        ys.append([(a - tree_y0) / sy, (a - tree_y0) / sy, (b - tree_y0) / sy, (b - tree_y0) / sy])
    p.multi_line(xs, ys, line_color="#8a8a8a", line_width=1)
    lg = p.legend[0]
    lg.location = leg_loc; lg.margin = 0; lg.padding = 0; lg.spacing = 3
    lg.glyph_width = 11; lg.glyph_height = 11; lg.label_height = 11; lg.label_standoff = 3
    lg.border_line_color = None; lg.background_fill_alpha = 0
    lg.label_text_font = OPEN; lg.label_text_font_size = "6.7px"; lg.label_text_color = "#222222"
    lg.label_text_baseline = "middle"
    cbar = ColorBar(color_mapper=mapper, orientation="horizontal", width=79, height=21, location=cb_loc, padding=0, margin=0,
                    ticker=FixedTicker(ticks=[0, 0.2, 0.4, 0.6, 0.8, 1]), major_label_text_font=OPEN,
                    major_label_text_font_size="6px", major_label_text_color="#333333", label_standoff=1,
                    major_tick_line_color="#777777", major_tick_in=2, bar_line_color="#aaaaaa", background_fill_alpha=0)
    p.add_layout(cbar)
    p.add_layout(Label(x=cb_title_xy[0], y=cb_title_xy[1], text="Overlap index", text_font=OPEN, text_font_size="7px",
                       text_align="center", text_baseline="middle", text_color="#222222"))
    p.add_layout(Label(x=title_xy[0], y=title_xy[1], text=title, text_font=OPEN, text_font_size="8.7px",
                       text_baseline="middle", text_color="#222222"))
    letter(p, tag, *tag_xy)
    return p

pd_ = overlap_panel(370, (-16.55, 50.0), (42.6, -12.84), overlap_d, cat_sizes_d, cat_cols_d, cats_d, tree_d, 276, 221, 16.7, 14.9,
                    (-2.1, -0.3), (40.3, 42.3), (19, 223), (215.7, 118),
                    "Platelet GO-terms down regulated", (7.37, -6.25), "D", (-14.4, -9.4), (-6.51, -9.01))
pe_ = overlap_panel(371, (-18.97, 47.87), (42.9, -12.67), overlap_e, cat_sizes_e, cat_cols_e, cats_e, tree_e, 316, 218, 16.65, 14.85,
                    (-2.2, -0.36), (40.1, 42.2), (37, 223), (200, 142),
                    "Platelet GO-terms up regulated", (8.18, -6.0), "E", (-17.53, -9.03), (-5.77, -8.83))

layout = column(row(pa, pb), row_c1, row_c2, row(pd_, pe_), spacing=0)
open("out.html", "w").write(file_html(layout, INLINE))
